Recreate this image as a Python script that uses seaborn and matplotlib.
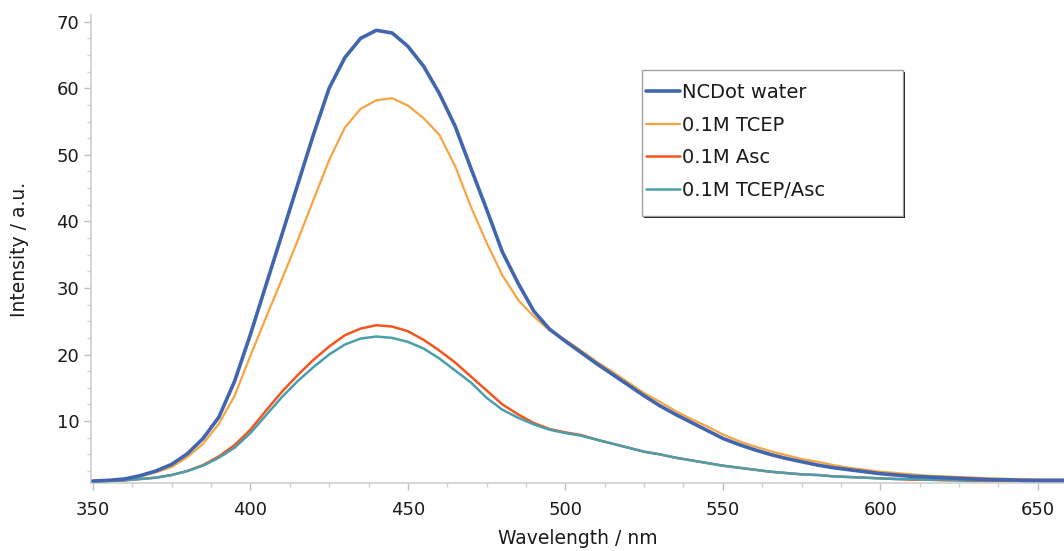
import numpy as np
import pandas as pd
import seaborn as sns
import matplotlib.pyplot as plt
from matplotlib.patches import Rectangle
from matplotlib.ticker import MultipleLocator, AutoMinorLocator

# wavelength grid (nm)
wavelength = list(range(350, 665, 5))

ncdot_water = [1.0, 1.1, 1.3, 1.8, 2.5, 3.5, 5.1, 7.4, 10.6, 16.0,
               23.0, 30.5, 38.0, 45.5, 53.0, 60.0, 64.6, 67.5, 68.7, 68.3,
               66.3, 63.3, 59.2, 54.3, 48.0, 41.8, 35.4, 30.7, 26.5, 23.8,
               22.0, 20.3, 18.6, 17.0, 15.4, 13.8, 12.3, 11.0, 9.8, 8.6,
               7.4, 6.5, 5.7, 5.0, 4.4, 3.9, 3.4, 3.0, 2.7, 2.4,
               2.1, 1.9, 1.7, 1.6, 1.5, 1.4, 1.3, 1.2, 1.2, 1.1,
               1.1, 1.1, 1.1]

tcep = [1.0, 1.1, 1.3, 1.7, 2.3, 3.1, 4.6, 6.6, 9.6, 13.8,
        19.8, 25.6, 31.3, 37.1, 43.2, 49.2, 54.1, 56.9, 58.2, 58.5,
        57.4, 55.5, 53.0, 48.3, 42.2, 36.8, 31.9, 28.2, 25.7, 23.6,
        22.2, 20.6, 18.9, 17.4, 15.8, 14.2, 12.9, 11.5, 10.3, 9.2,
        8.0, 7.0, 6.2, 5.5, 4.9, 4.3, 3.9, 3.4, 3.0, 2.7,
        2.4, 2.2, 2.0, 1.8, 1.7, 1.6, 1.5, 1.4, 1.3, 1.3,
        1.2, 1.2, 1.2]

asc = [0.9, 1.0, 1.1, 1.3, 1.5, 1.9, 2.5, 3.4, 4.7, 6.4,
       8.7, 11.6, 14.4, 16.9, 19.2, 21.2, 22.9, 23.9, 24.4, 24.2,
       23.5, 22.2, 20.6, 18.8, 16.7, 14.6, 12.5, 11.0, 9.7, 8.8,
       8.3, 7.9, 7.2, 6.6, 6.0, 5.4, 5.0, 4.5, 4.1, 3.7,
       3.3, 3.0, 2.7, 2.4, 2.2, 2.0, 1.9, 1.7, 1.6, 1.5,
       1.4, 1.3, 1.2, 1.2, 1.1, 1.1, 1.0, 1.0, 1.0, 1.0,
       0.9, 0.9, 0.9]

tcep_asc = [0.9, 1.0, 1.1, 1.3, 1.5, 1.9, 2.5, 3.3, 4.5, 6.0,
            8.2, 10.9, 13.6, 16.0, 18.1, 20.0, 21.5, 22.4, 22.7, 22.5,
            21.9, 20.9, 19.4, 17.6, 15.8, 13.5, 11.7, 10.5, 9.5, 8.7,
            8.2, 7.8, 7.2, 6.6, 6.0, 5.4, 5.0, 4.5, 4.1, 3.7,
            3.3, 3.0, 2.7, 2.4, 2.2, 2.0, 1.9, 1.7, 1.6, 1.5,
            1.4, 1.3, 1.3, 1.2, 1.2, 1.1, 1.1, 1.1, 1.1, 1.0,
            1.0, 1.0, 1.0]

labels = ["NCDot water", "0.1M TCEP", "0.1M Asc", "0.1M TCEP/Asc"]
colors = ["#4266ad", "#f7a444", "#f2561f", "#4a9fac"]
widths = [2.6, 1.6, 1.8, 1.8]
series = [ncdot_water, tcep, asc, tcep_asc]

sns.set_style("white")
plt.rcParams['font.family'] = ['DejaVu Sans']

W, H = 1064, 551
fig = plt.figure(figsize=(W / 100, H / 100), dpi=100)
ax = fig.add_axes([91 / W, 1 - 483 / H, 1 - 91 / W, (483 - 15) / H])

# draw the weaker lines first, blue on top
for i in [1, 2, 3, 0]:
    df = pd.DataFrame({"Wavelength": wavelength, "Intensity": series[i]})
    sns.lineplot(data=df, x="Wavelength", y="Intensity", color=colors[i],
                 linewidth=widths[i], label=labels[i], ax=ax,
                 zorder=3 if i == 0 else 2)

ax.set_xlim(349.4, 658.3)
ax.set_ylim(0.7, 71)
ax.xaxis.set_major_locator(MultipleLocator(50))
ax.yaxis.set_major_locator(MultipleLocator(10))
ax.xaxis.set_minor_locator(AutoMinorLocator(4))
ax.yaxis.set_minor_locator(AutoMinorLocator(4))
ax.set_yticks([10, 20, 30, 40, 50, 60, 70])

for side in ["top", "right"]:
    ax.spines[side].set_visible(False)
for side in ["left", "bottom"]:
    ax.spines[side].set_color("#cfcfcf")
    ax.spines[side].set_linewidth(1.2)

ax.tick_params(which="major", length=5, width=1, color="#bdbdbd", labelsize=13,
               labelcolor="#1a1a1a", direction="out", left=True, bottom=True)
ax.tick_params(which="minor", length=3, width=1, color="#cfcfcf", left=True, bottom=True)
ax.tick_params(axis="x", pad=8)

ax.set_xlabel("Wavelength / nm", fontsize=13.5, color="#1a1a1a", labelpad=7)
ax.set_ylabel("Intensity / a.u.", fontsize=13.5, color="#1a1a1a", labelpad=20)

# legend frame with a thin dark shadow on the lower/right edges
bx, by, bw, bh = 642 / W, 1 - 216 / H, 261 / W, 146 / H
ax.add_patch(Rectangle((bx + 2 / W, by - 2 / H), bw, bh, transform=fig.transFigure,
                       facecolor="#111111", edgecolor="none", zorder=4, clip_on=False))
ax.add_patch(Rectangle((bx, by), bw, bh, transform=fig.transFigure,
                       facecolor="white", edgecolor="#a0a0a0", linewidth=1.0,
                       zorder=4.5, clip_on=False))

handles, lbls = ax.get_legend_handles_labels()
idx = [lbls.index(l) for l in labels]
leg = ax.legend([handles[k] for k in idx], [lbls[k] for k in idx],
                loc="upper left", bbox_to_anchor=(646 / W, 1 - 83 / H),
                bbox_transform=fig.transFigure, fontsize=14, frameon=False,
                borderpad=0, labelspacing=0.7, handlelength=1.75,
                handletextpad=0.12, borderaxespad=0)
leg.set_zorder(5)
for t in leg.get_texts():
    t.set_color("#1a1a1a")

plt.savefig("out.png", dpi=100)
